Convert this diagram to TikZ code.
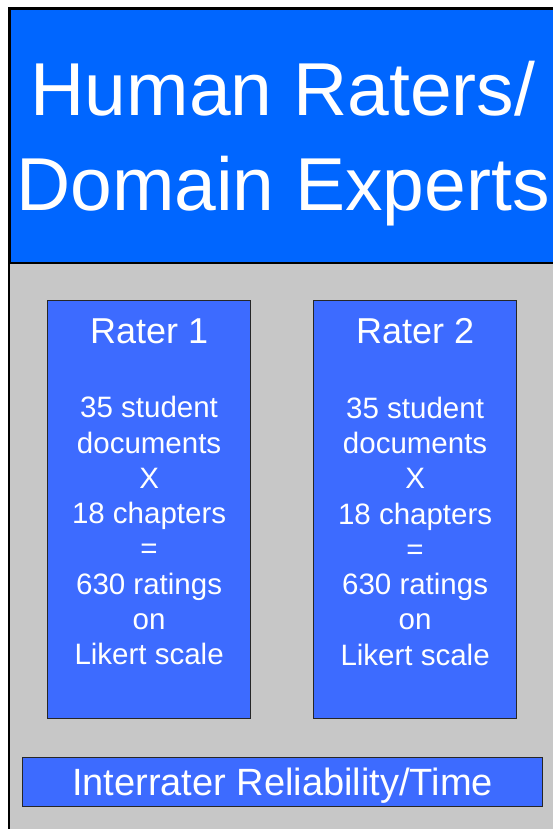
\documentclass[tikz,border=0pt]{standalone}
\usepackage{fontspec}
\setmainfont{Liberation Sans}
\usepackage{tikz,color}
\usetikzlibrary{positioning}

\definecolor{bandBlue}{RGB}{0,102,255}
\definecolor{raterBlue}{RGB}{61,107,255}
\definecolor{panelGray}{RGB}{199,199,199}

\begin{document}
\begin{tikzpicture}[x=1pt,y=-1pt,every text node part/.style={align=center}]
\tikzset{myFont/.style={text=white,inner sep=0pt,text depth=0pt}}
\tikzset{myBand/.style={draw=black,line width=2pt,fill=bandBlue,myFont,font=\fontsize{75}{95}\selectfont}}
\tikzset{myBox/.style={draw=black!85,line width=1.2pt,fill=raterBlue,myFont,font=\fontsize{38}{40}\selectfont}}
\tikzset{myTitle/.style={myFont,font=\fontsize{36}{40}\selectfont}}
\tikzset{myBody/.style={myFont,font=\fontsize{29.5}{35.3}\selectfont}}

\useasboundingbox (0,0) rectangle (553,829);
\clip (0,0) rectangle (553,829);
\draw[line width=2pt,fill=panelGray] (9,8) rectangle (600,900);

\node[myBand,anchor=north west,minimum width=546pt,minimum height=254pt] (band) at (9,8) {Human Raters/\\Domain Experts};

\node[myBox,anchor=north west,minimum width=203pt,minimum height=418pt] (rater1) at (47,300) {};
\node[myBox,minimum width=203pt,minimum height=418pt,right=61.8pt of rater1] (rater2) {};
\node[myTitle,below=18.5pt of rater1.north] (title1) {Rater 1};
\node[myTitle,below=18.5pt of rater2.north] (title2) {Rater 2};
\node[myBody,below=52.5pt of title1] (body1) {35 student\\documents\\X\\18 chapters\\=\\630 ratings\\on\\Likert scale};
\node[myBody,below=52.5pt of title2] (body2) {35 student\\documents\\X\\18 chapters\\=\\630 ratings\\on\\Likert scale};

\node[myBox,anchor=north west,minimum width=520pt,minimum height=49pt] (irt) at (22,757) {Interrater Reliability/Time};

\end{tikzpicture}
\end{document}
